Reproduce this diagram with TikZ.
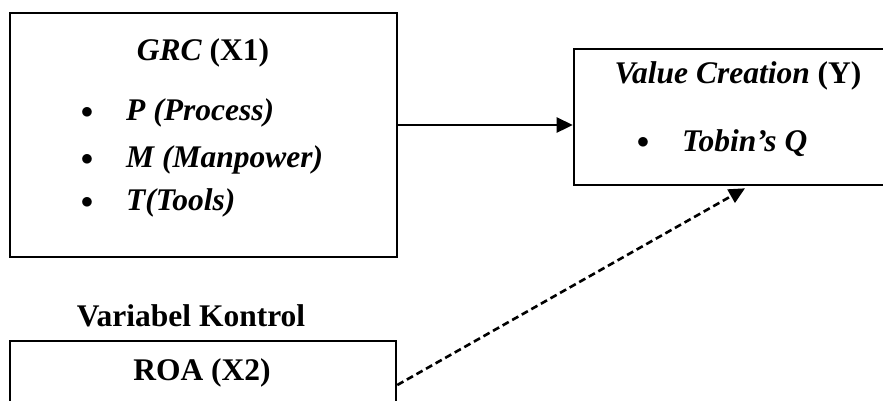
\documentclass[tikz,border=0pt]{standalone}
\usepackage{fontspec}
\setmainfont{Liberation Serif}
\usetikzlibrary{arrows.meta}
\begin{document}
\begin{tikzpicture}[x=1pt,y=-1pt,
  box/.style={draw,line width=2.6pt,inner sep=0pt,minimum width=#1},
  txt/.style={font=\fontsize{31.5}{36}\selectfont\bfseries,inner sep=0pt,yshift=-3pt},
  tip/.style={-{Triangle[length=16pt,width=15pt]}}]
\useasboundingbox (0,0) rectangle (883,400);
\node[box=387pt,minimum height=244pt] (grc) at (203.5,135) {};
\node[box=321pt,minimum height=136pt] (vc) at (734.5,117) {};
\node[box=386pt,minimum height=79pt] (roa) at (203,380.5) {};
\node[txt] (grct) at (203,50) {\textit{GRC} (X1)};
\node[txt] (b1) at (87,110) {$\bullet$};
\node[txt,anchor=west] (t1) at (126,110) {\textit{P (Process)}};
\node[txt] (b2) at (87,157) {$\bullet$};
\node[txt,anchor=west] (t2) at (126,157) {\textit{M (Manpower)}};
\node[txt] (b3) at (87,200) {$\bullet$};
\node[txt,anchor=west] (t3) at (126,200) {\textit{T(Tools)}};
\node[txt] (vct) at (738,73) {\textit{Value Creation} (Y)};
\node[txt] (b4) at (643,140) {$\bullet$};
\node[txt,anchor=west] (t4) at (682,140) {\textit{Tobin’s Q}};
\node[txt] (vk) at (191,313) {Variabel Kontrol};
\node[txt] (roat) at (202,370) {ROA (X2)};
\draw[line width=2.6pt,tip] ([yshift=10pt]grc.east) -- ([yshift=-8pt]vc.west);
\draw[line width=2.6pt,dash pattern=on 7pt off 4pt,tip] ([yshift=-4.5pt]roa.east) -- ([xshift=10.5pt,yshift=-2pt]vc.south);
\end{tikzpicture}
\end{document}
